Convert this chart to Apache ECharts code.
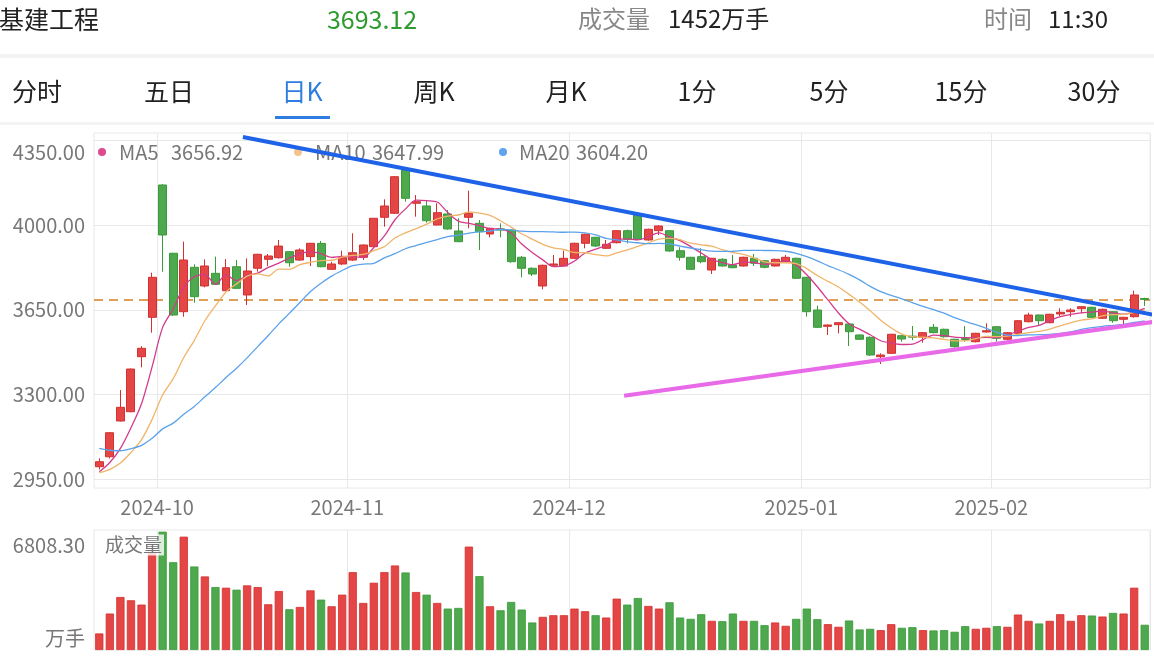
<!DOCTYPE html>
<html><head><meta charset="utf-8">
<script src="https://cdn.jsdelivr.net/npm/echarts@6/dist/echarts.min.js"></script>
<style>html,body{margin:0;padding:0;background:#fff}#c{width:1154px;height:664px}</style>
</head><body><div id="c"></div>
<script>
// ---------- data ----------
const dates = [
 '2024-09-23','2024-09-24','2024-09-25','2024-09-26','2024-09-27','2024-09-30',
 '2024-10-08','2024-10-09','2024-10-10','2024-10-11','2024-10-14','2024-10-15','2024-10-16','2024-10-17','2024-10-18',
 '2024-10-21','2024-10-22','2024-10-23','2024-10-24','2024-10-25','2024-10-28','2024-10-29','2024-10-30','2024-10-31',
 '2024-11-01','2024-11-04','2024-11-05','2024-11-06','2024-11-07','2024-11-08','2024-11-11','2024-11-12','2024-11-13',
 '2024-11-14','2024-11-15','2024-11-18','2024-11-19','2024-11-20','2024-11-21','2024-11-22','2024-11-25','2024-11-26',
 '2024-11-27','2024-11-28','2024-11-29',
 '2024-12-02','2024-12-03','2024-12-04','2024-12-05','2024-12-06','2024-12-09','2024-12-10','2024-12-11','2024-12-12',
 '2024-12-13','2024-12-16','2024-12-17','2024-12-18','2024-12-19','2024-12-20','2024-12-23','2024-12-24','2024-12-25',
 '2024-12-26','2024-12-27','2024-12-30','2024-12-31',
 '2025-01-02','2025-01-03','2025-01-06','2025-01-07','2025-01-08','2025-01-09','2025-01-10','2025-01-13','2025-01-14',
 '2025-01-15','2025-01-16','2025-01-17','2025-01-20','2025-01-21','2025-01-22','2025-01-23','2025-01-24','2025-01-27',
 '2025-02-05','2025-02-06','2025-02-07','2025-02-10','2025-02-11','2025-02-12','2025-02-13','2025-02-14','2025-02-17',
 '2025-02-18','2025-02-19','2025-02-20','2025-02-21','2025-02-24','2025-02-25'
];
const opens = [
 3000.9,3042,3190,3228.5,3456,3619,4166.6,3884,3642.3,3826,
 3748.6,3801,3729,3828.5,3711.4,3822,3859,3865.7,3890.6,3856,
 3870,3925,3817.7,3839.7,3856,3867.4,3911.3,4032.9,4049.5,4228.6,
 4090.9,4079.7,4001,4046.6,3976.2,4032.9,4008,3963.8,3985,3980.4,
 3867.4,3821.9,3748.6,3834.3,3831.4,3863.3,3925.3,3950.2,3904.6,3927.8,
 3977.5,4042.4,3939,3977.5,3977.5,3894.7,3867.4,3870,3814.8,3859.1,
 3835.5,3831.4,3863.3,3853.3,3831.4,3849.2,3863.3,3784.6,3649.3,3581.9,
 3588.5,3591.4,3545.9,3536.4,3456.1,3470.1,3543,3541,3536.4,3577.7,
 3569.5,3528.1,3531,3518.1,3558.3,3580.2,3528.1,3552.9,3600.9,3628.6,
 3596.8,3632.8,3642.3,3654.7,3660.5,3615,3642.3,3610.8,3621.6,3697
];
const closes = [
 3021.6,3141.6,3246.7,3405,3490.8,3784.6,3959.7,3628.6,3856.2,3704.4,
 3831.4,3755.7,3824.4,3739,3810.7,3879.8,3872.8,3914,3845,3897.6,
 3925.3,3828.5,3839.7,3865.7,3886.4,3918.3,4028.8,4079.7,4200.9,4111.5,
 4097.5,4018.8,4052,3984.5,3932,4049.5,3973.3,3987.4,3980,3849.2,
 3821.9,3798.3,3834.3,3839.7,3863.3,3925.3,3962.6,3914.2,3921.2,3977.5,
 3941.9,3941.9,3983.3,3996.9,3893.5,3867.4,3817.7,3849.2,3863.3,3831.4,
 3824.4,3867.4,3842.6,3826,3859.1,3867.4,3780.5,3642.3,3577.7,3587.3,
 3596.8,3559.5,3528.1,3463.1,3463.1,3548.8,3529.3,3537,3555.4,3555.4,
 3538.8,3497.5,3527,3552.9,3563.7,3532.2,3555.4,3605,3628.6,3605,
 3631.5,3639.8,3649.3,3663,3619,3652.2,3605,3619,3711.4,3693.12
];
const lows = [
 2990,3035,3188,3226,3412,3555.4,3807.8,3625,3621.6,3679.5,
 3743,3752.8,3728,3738,3670,3808,3831,3862,3828.5,3853,
 3831,3826,3816,3835.5,3852,3856,3908,3994,4046.6,4097.5,
 4035.4,4010.6,4000,3982,3930,3987.4,3897.6,3950.2,3950,3845,
 3784.6,3790,3735,3828.5,3830,3860,3904.6,3910,3902,3925,
 3925,3940,3936,3959.7,3890,3853.3,3815,3842.6,3798.3,3829,
 3822,3829,3831.4,3822,3829,3847,3778,3621.6,3575,3545.9,
 3552.9,3500.4,3526,3460,3425.9,3468,3518.1,3525,3514,3553,
 3535,3494,3518,3515,3556,3518.1,3525,3550,3598,3587.3,
 3594.3,3624.5,3621.6,3635.7,3616,3612,3596.8,3591.4,3618,3665.9
];
const highs = [
 3035.7,3143,3318,3407,3500,3803.7,4170,3886,3932,3838.5,
 3859,3870,3860,3856,3863,3882,3881,3939,3892,3904.6,
 3927,3935,3849,3894.7,3966.7,3920,4030,4107.4,4203,4240,
 4125.2,4101.6,4090.9,4063,4028.8,4143,4021.7,3990,4008,3982,
 3872.8,3826,3837,3876.9,3894.7,3928,3965,3952,3939,3980,
 3982,4048,3986,4000,3980,3908.8,3869,3904.6,3865,3863,
 3876.9,3870,3881,3856,3862,3876.9,3866,3786,3667.1,3589,
 3599,3595,3548,3540,3470.1,3551,3546,3583,3558,3591.4,
 3572,3530,3583,3555,3594.3,3583,3558,3608,3638.1,3631,
 3634,3656.4,3656.4,3666,3663,3655,3645,3621,3729.2,3700
];
// volumes in 万手
const volumes = [
 953,2098,3051,2861,2613,5650,6808.3,5054,6522,4806,
 4234,3623,3585,3471,3719,3623,2632,3394,2346,2479,
 3433,2899,2517,3185,4481,2708,3871,4481,4863,4462,
 3337,3185,2708,2384,2422,5950,4253,2517,2288,2765,
 2327,1583,1907,2002,2002,2384,2231,2002,1869,2956,
 2613,2994,2536,2384,2746,1869,1793,2060,1678,1659,
 2098,1678,1678,1430,1583,1392,1793,2384,1773,1487,
 1335,1697,1182,1220,1144,1487,1278,1316,1144,1125,
 1144,1049,1373,1220,1278,1373,1335,2040,1678,1526,
 1678,2060,1678,2002,1983,1926,2136,2098,3585,1452
];
// closes of the 19 sessions before the window (estimated from where the MA lines start)
const closesBefore = [3300,3290,3230,3220,3200,3180,3150,3120,3060,3030,3000,2985,2970,2960,2945,2950,2955,2978,2995];
const priceTicks = [2950, 3300, 3650, 4000, 4350];
const volumeTicks = [0, 6808.30];
const volumeTickLabels = ['万手', '6808.30'];
const lastPrice = 3693.12;
const maPeriods = [5, 10, 20];
const maNames = ['MA5', 'MA10', 'MA20'];
const maLegendValues = ['3656.92', '3647.99', '3604.20'];
// trend lines: [bar position, price]
const blueTrend = [[13.6, 4365], [99.97, 3628.6]];
const pinkTrend = [[49.7, 3294.7], [99.97, 3600.9]];
const headerName = '基建工程';
const headerPrice = '3693.12';
const headerVolLabel = '成交量';
const headerVolValue = '1452万手';
const headerTimeLabel = '时间';
const headerTimeValue = '11:30';
const tabs = ['分时', '五日', '日K', '周K', '月K', '1分', '5分', '15分', '30分'];
const activeTab = 2;
const volumePaneLabel = '成交量';

// ---------- styles ----------
const FONT = "'Noto Sans CJK SC', 'Noto Sans', sans-serif";
const RED = '#e44545', RED_B = '#d33030', GREEN = '#4ea84e', GREEN_B = '#3a9a3a';
const MA_COLORS = ['#d43a8c', '#f0b468', '#5ba2ea'];
const MA_DOTS = ['#dc4a92', '#f5c48e', '#5ea3f2'];
const GRID_C = '#e8e8e8';
const LABEL_C = '#777';

function ma(n) {
  const all = closesBefore.concat(closes);
  const off = closesBefore.length;
  return closes.map((_, i) => {
    const j = i + off;
    if (j - n + 1 < 0) return '-';
    let s = 0;
    for (let k = j - n + 1; k <= j; k++) s += all[k];
    return +(s / n).toFixed(2);
  });
}
const monthStart = dates.map((d, i) => i > 0 && d.slice(0, 7) !== dates[i - 1].slice(0, 7));
const candleData = dates.map((d, i) => [opens[i], closes[i], lows[i], highs[i]]);
const volData = volumes.map((v, i) => {
  const up = closes[i] >= opens[i];
  return { value: v, itemStyle: { color: up ? RED : GREEN, borderColor: up ? RED_B : GREEN_B, borderWidth: 0.8 } };
});

// ---------- graphics (header, tabs, legend) ----------
const graphics = [];
function txt(text, x, y, size, color, align, z, extra) {
  graphics.push({ type: 'text', x: x, y: y, z: z || 1, silent: true,
    style: Object.assign({ text: text, fontSize: size, fontFamily: FONT, fill: color, align: align || 'left', verticalAlign: 'middle' }, extra || {}) });
}
function rect(x, y, w, h, color, z) {
  graphics.push({ type: 'rect', silent: true, z: z || 0, shape: { x: x, y: y, width: w, height: h }, style: { fill: color } });
}
txt(headerName, -1, 19, 25, '#222');
txt(headerPrice, 372, 19, 25, '#2f9b2f', 'center');
txt(headerVolLabel, 578, 19, 24, '#888');
txt(headerVolValue, 668, 19, 24, '#222');
txt(headerTimeLabel, 984, 19, 24, '#888');
txt(headerTimeValue, 1048, 19, 24, '#222');
rect(0, 54, 1154, 4, '#f3f3f3');
const tabCenters = [37, 169, 302, 434, 566, 697, 829, 961, 1094];
tabs.forEach((t, i) => txt(t, tabCenters[i], 91, 25, i === activeTab ? '#2f7de1' : '#222', 'center'));
rect(275, 116, 55, 3, '#2f7de1', 2);
rect(0, 122, 1154, 3, '#f3f3f3');
// MA legend
const legendX = [[102, 119, 171], [298, 315, 372], [503, 519, 576]];
maNames.forEach((n, i) => {
  graphics.push({ type: 'circle', silent: true, z: 1, shape: { cx: legendX[i][0], cy: 152, r: 4 }, style: { fill: MA_DOTS[i] } });
  txt(n, legendX[i][1], 152, 20, LABEL_C);
  txt(maLegendValues[i], legendX[i][2], 152, 20, LABEL_C);
});
txt(volumePaneLabel, 103, 545, 19, LABEL_C, 'left', 30, { backgroundColor: 'rgba(255,255,255,0.8)', padding: [1, 2] });

const chart = echarts.init(document.getElementById('c'));
chart.setOption({
  animation: false,
  backgroundColor: '#fff',
  textStyle: { fontFamily: FONT },
  graphic: { elements: graphics },
  grid: [
    { left: 94, top: 133, width: 1056, height: 355, show: true, borderColor: GRID_C, borderWidth: 1 },
    { left: 94, top: 530, width: 1056, height: 120, show: true, borderColor: GRID_C, borderWidth: 1 }
  ],
  xAxis: [
    { type: 'category', gridIndex: 0, data: dates, boundaryGap: true,
      axisLine: { show: false }, axisTick: { show: false },
      axisLabel: { interval: (i) => monthStart[i], margin: 9,
        formatter: (v) => '{a|' + v.slice(0, 7) + '}',
        rich: { a: { fontSize: 20, color: LABEL_C, fontFamily: FONT, padding: [0, 11, 0, 0] } } },
      splitLine: { show: true, interval: (i) => monthStart[i], lineStyle: { color: GRID_C, width: 1 } } },
    { type: 'category', gridIndex: 1, data: dates, boundaryGap: true,
      axisLine: { show: false }, axisTick: { show: false }, axisLabel: { show: false },
      splitLine: { show: true, interval: (i) => monthStart[i], lineStyle: { color: GRID_C, width: 1 } } },
    { type: 'value', gridIndex: 0, min: -0.5, max: 99.5, show: false }
  ],
  yAxis: [
    { type: 'value', gridIndex: 0, min: 2912.8, max: 4381.7, scale: true,
      axisLine: { show: false }, axisTick: { show: false, customValues: priceTicks },
      axisLabel: { customValues: priceTicks, margin: 9,
        formatter: (v) => (v === priceTicks[priceTicks.length - 1] ? '{t|' : '{n|') + v.toFixed(2) + '}',
        rich: { n: { fontSize: 20, color: LABEL_C, fontFamily: FONT },
                t: { fontSize: 20, color: LABEL_C, fontFamily: FONT, padding: [24, 0, 0, 0] } } },
      splitLine: { show: true, lineStyle: { color: GRID_C, width: 1 } } },
    { type: 'value', gridIndex: 1, min: 0, max: 6906,
      axisLine: { show: false }, axisTick: { show: false, customValues: volumeTicks },
      axisLabel: { customValues: volumeTicks, margin: 9,
        formatter: (v) => v === 0 ? '{b|' + volumeTickLabels[0] + '}' : '{t|' + volumeTickLabels[1] + '}',
        rich: { b: { fontSize: 20, color: LABEL_C, fontFamily: FONT, padding: [0, 0, 24, 0] },
                t: { fontSize: 20, color: LABEL_C, fontFamily: FONT, padding: [27, 0, 0, 0] } } },
      splitLine: { show: false } }
  ],
  series: [
    { type: 'candlestick', name: 'K', xAxisIndex: 0, yAxisIndex: 0, data: candleData, barWidth: '80%', z: 3,
      itemStyle: { color: RED, color0: GREEN, borderColor: RED_B, borderColor0: GREEN_B, borderWidth: 1 },
      markLine: { silent: true, symbol: ['none', 'none'], label: { show: false }, z: 2,
        lineStyle: { color: '#dea059', type: [9, 6], width: 2, opacity: 1 }, data: [{ yAxis: lastPrice }] } },
    ...maPeriods.map((p, i) => ({ type: 'line', name: maNames[i], xAxisIndex: 0, yAxisIndex: 0, data: ma(p),
      showSymbol: false, smooth: 0.3, z: 4, silent: true, lineStyle: { color: MA_COLORS[i], width: 1.3 } })),
    { type: 'line', name: 'trendDown', xAxisIndex: 2, yAxisIndex: 0, data: blueTrend, clip: false, showSymbol: false,
      silent: true, z: 10, lineStyle: { color: '#1e62e8', width: 4 } },
    { type: 'line', name: 'trendUp', xAxisIndex: 2, yAxisIndex: 0, data: pinkTrend, clip: false, showSymbol: false,
      silent: true, z: 10, lineStyle: { color: '#e86ae8', width: 4 } },
    { type: 'bar', name: 'vol', xAxisIndex: 1, yAxisIndex: 1, data: volData, barWidth: '78%', z: 3 }
  ]
});
</script></body></html>
